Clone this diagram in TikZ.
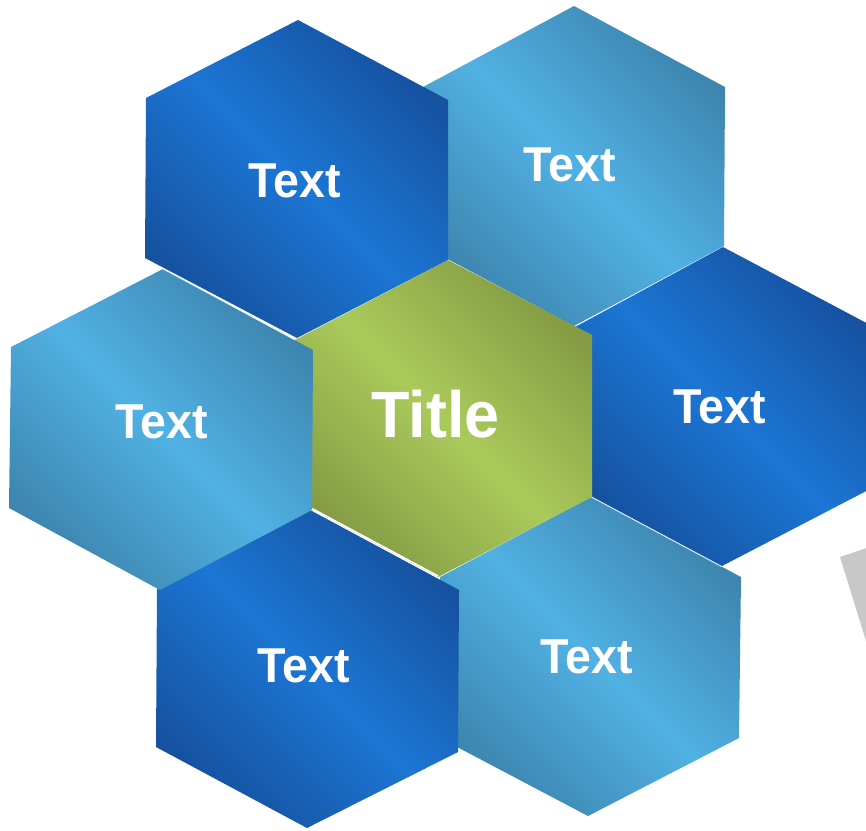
\documentclass[tikz,border=0pt]{standalone}
\usepackage{fontspec}
\setmainfont{Liberation Sans}
\definecolor{dbEnd}{HTML}{1552A0}
\definecolor{dbMid}{HTML}{1C76D4}
\definecolor{lbEnd}{HTML}{3D86B0}
\definecolor{lbMid}{HTML}{51B1E3}
\definecolor{grEnd}{HTML}{859C44}
\definecolor{grMid}{HTML}{AACA5B}
\definecolor{shadowgray}{HTML}{C8C8C8}
\begin{document}
\begin{tikzpicture}[x=1pt,y=-1pt,
  darkhex/.style={top color=dbEnd, bottom color=dbEnd, middle color=dbMid, shading angle=-45},
  lighthex/.style={top color=lbEnd, bottom color=lbEnd, middle color=lbMid, shading angle=-45},
  greenhex/.style={top color=grEnd, bottom color=grEnd, middle color=grMid, shading angle=-45},
  sep/.style={white, line width=#1},
  lbl/.style={text=white, font=\fontsize{49}{49}\selectfont\bfseries, anchor=base, inner sep=0pt},
  ttl/.style={text=white, font=\fontsize{65.5}{65.5}\selectfont\bfseries, anchor=base, inner sep=0pt}]
\clip (0,0) rectangle (866,830);
% gray shape at the right edge
\fill[shadowgray] (840,557) -- (890,540) -- (890,720) -- (870,654) -- cycle;
% top-right light hexagon
\shade[lighthex] (574,6) -- (725,87) -- (724,246) -- (574,326) -- (423,246) -- (423,87) -- cycle;
% top-left dark hexagon
\shade[darkhex] (298,20) -- (448,100) -- (448,260) -- (297,338) -- (145,258) -- (146,98) -- cycle;
% right dark hexagon
\shade[darkhex] (723,247) -- (874,327) -- (874,487) -- (722,566) -- (574,487) -- (575,327) -- cycle;
% bottom-right light hexagon
\shade[lighthex] (591,497) -- (741,577) -- (739,738) -- (588,816) -- (440,738) -- (440,577) -- cycle;
\draw[sep=0.6, white!70!lbMid] (591,497) -- (722,567);
% centre green hexagon
\shade[greenhex] (448,260) -- (592,335) -- (592,497) -- (438,577) -- (295,500) -- (295,340) -- cycle;
% bottom-left dark hexagon
\shade[darkhex] (310,510) -- (459,590) -- (458,752) -- (307,828) -- (156,747) -- (157,589) -- cycle;
\draw[sep=1.6] (312,508.5) -- (438,576);
% left light hexagon
\shade[lighthex] (163,269) -- (313,350) -- (312,510) -- (160,590) -- (9,508) -- (11,347) -- cycle;
\draw[sep=0.7, white!80!lbMid] (163,269) -- (295,340);
% labels
\node[lbl] (t1) at (295,197) {\scalebox{0.95}[1]{Text}};
\node[lbl] (t2) at (570,181) {\scalebox{0.95}[1]{Text}};
\node[lbl] (t3) at (161.5,438) {\scalebox{0.95}[1]{Text}};
\node[ttl] (title) at (435.5,437) {\scalebox{0.96}[1]{Title}};
\node[lbl] (t4) at (720,423) {\scalebox{0.95}[1]{Text}};
\node[lbl] (t5) at (303.5,682) {\scalebox{0.95}[1]{Text}};
\node[lbl] (t6) at (586.5,673) {\scalebox{0.95}[1]{Text}};
\end{tikzpicture}
\end{document}
